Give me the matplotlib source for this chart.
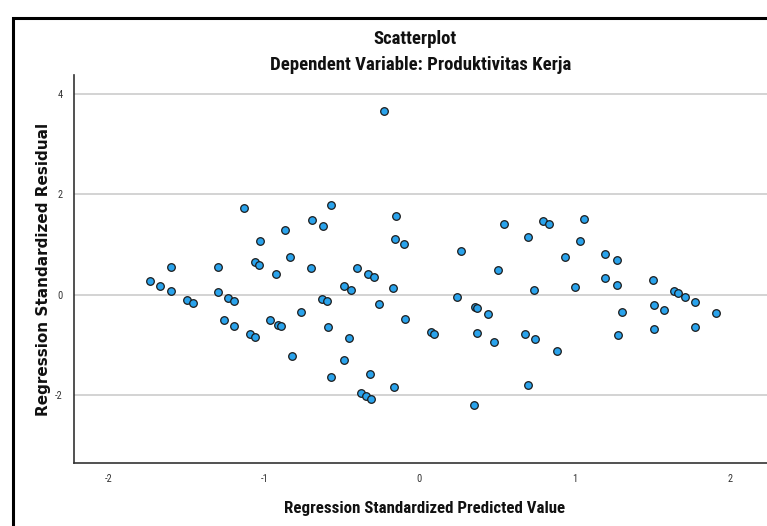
import matplotlib
matplotlib.use("Agg")
import matplotlib.pyplot as plt
from matplotlib import font_manager
from matplotlib.patches import Rectangle

# ---- data ----
pred = [-1.733, -1.669, -1.603, -1.603, -1.497, -1.462, -1.299, -1.297, -1.233, -1.196,
        -1.260, -1.192, -1.092, -1.060, -1.129, -1.026, -1.062, -1.034, -0.925, -0.866,
        -0.831, -0.965, -0.910, -0.891, -0.824, -0.763, -0.231, -0.571, -0.690, -0.619,
        -0.149, -0.160, -0.098, 0.269, 0.543, -0.699, -0.399, 0.507, -0.329, -0.292,
        -0.489, -0.442, -0.167, -0.628, -0.594, -0.263, 0.242, 0.359, 0.374, 0.440,
        -0.092, -0.592, -0.453, 0.075, 0.092, 0.374, 0.479, -0.483, -0.571, -0.318,
        -0.162, -0.378, -0.346, -0.312, 0.351, 0.799, 0.836, 1.064, 0.699, 1.037,
        0.936, 1.199, 1.272, 0.740, 1.003, 1.195, 1.272, 1.507, 1.641, 1.665,
        1.712, 1.778, 1.913, 1.511, 1.577, 1.306, 1.511, 1.778, 1.282, 0.678,
        0.744, 0.889, 0.701]
resid = [0.28, 0.17, 0.56, 0.07, -0.11, -0.17, 0.55, 0.05, -0.06, -0.12,
         -0.50, -0.62, -0.78, -0.84, 1.737, 1.07, 0.65, 0.59, 0.41, 1.30,
         0.75, -0.50, -0.60, -0.62, -1.22, -0.35, 3.67, 1.79, 1.49, 1.38,
         1.58, 1.11, 1.01, 0.88, 1.41, 0.53, 0.53, 0.49, 0.41, 0.35,
         0.18, 0.09, 0.13, -0.08, -0.13, -0.19, -0.05, -0.25, -0.27, -0.39,
         -0.48, -0.64, -0.86, -0.75, -0.79, -0.76, -0.94, -1.30, -1.65, -1.58,
         -1.84, -1.97, -2.02, -2.08, -2.20, 1.48, 1.42, 1.52, 1.15, 1.08,
         0.76, 0.81, 0.69, 0.10, 0.16, 0.33, 0.20, 0.29, 0.07, 0.04,
         -0.04, -0.15, -0.37, -0.20, -0.31, -0.35, -0.69, -0.64, -0.80, -0.78,
         -0.88, -1.13, -1.80]
xticks = [-2, -1, 0, 1, 2]
yticks = [-2, 0, 2, 4]
title = "Scatterplot"
subtitle = "Dependent Variable: Produktivitas Kerja"
xlabel = "Regression Standardized Predicted Value"
ylabel = "Regression Standardized Residual"

# ---- fonts ----
available = {f.name for f in font_manager.fontManager.ttflist}
def pick(cands):
    for c in cands:
        if c in available:
            return c
    return "DejaVu Sans"
narrow = pick(["Liberation Sans Narrow", "DejaVu Sans Condensed", "Roboto Condensed", "Liberation Sans"])
wide = pick(["DejaVu Sans"])

W, H = 767, 526
fig = plt.figure(figsize=(W / 100, H / 100), dpi=100)
fig.patch.set_facecolor("white")

# outer frame (cropped on the right / bottom)
fig.add_artist(Rectangle((13 / W, -0.05), 1.2, 1 - 18 / H + 0.05, transform=fig.transFigure,
                         fill=False, edgecolor="black", linewidth=2.2))

ax = fig.add_axes([74 / W, 1 - 463 / H, 1 - 74 / W + 0.01, (463 - 75) / H])
ax.set_xlim(-2.226, 2.29)
ax.set_ylim(-3.36, 4.385)

ax.set_yticks(yticks)
ax.set_xticks(xticks)
ax.set_yticklabels([str(t) for t in yticks])
ax.set_xticklabels([str(t) for t in xticks])
ax.tick_params(length=0, labelsize=7.5, colors="#333333", pad=8)
for lab in ax.get_xticklabels() + ax.get_yticklabels():
    lab.set_family(narrow)
ax.grid(axis="y", color="#c8c8c8", linewidth=1.1)
ax.set_axisbelow(True)

for s in ["top", "right"]:
    ax.spines[s].set_visible(False)
for s in ["left", "bottom"]:
    ax.spines[s].set_color("#333333")
    ax.spines[s].set_linewidth(1.2)

ax.scatter(pred, resid, s=30, facecolor="#2aa3ec", edgecolor="#1b1b1b", linewidth=0.9, zorder=3)

ax.set_xlabel(xlabel, fontsize=12.2, fontweight="bold", family=narrow, labelpad=12, color="#111111")
ax.set_ylabel(ylabel, fontsize=11, fontweight="bold", family=wide, labelpad=3, color="#111111")

fig.text(415 / W, 1 - 39 / H, title, ha="center", va="center", fontsize=13.5, fontweight="bold",
         family=narrow, color="#111111")
fig.text(421 / W, 1 - 65 / H, subtitle, ha="center", va="center", fontsize=13.5, fontweight="bold",
         family=narrow, color="#111111")

fig.savefig("out.png", dpi=100)
